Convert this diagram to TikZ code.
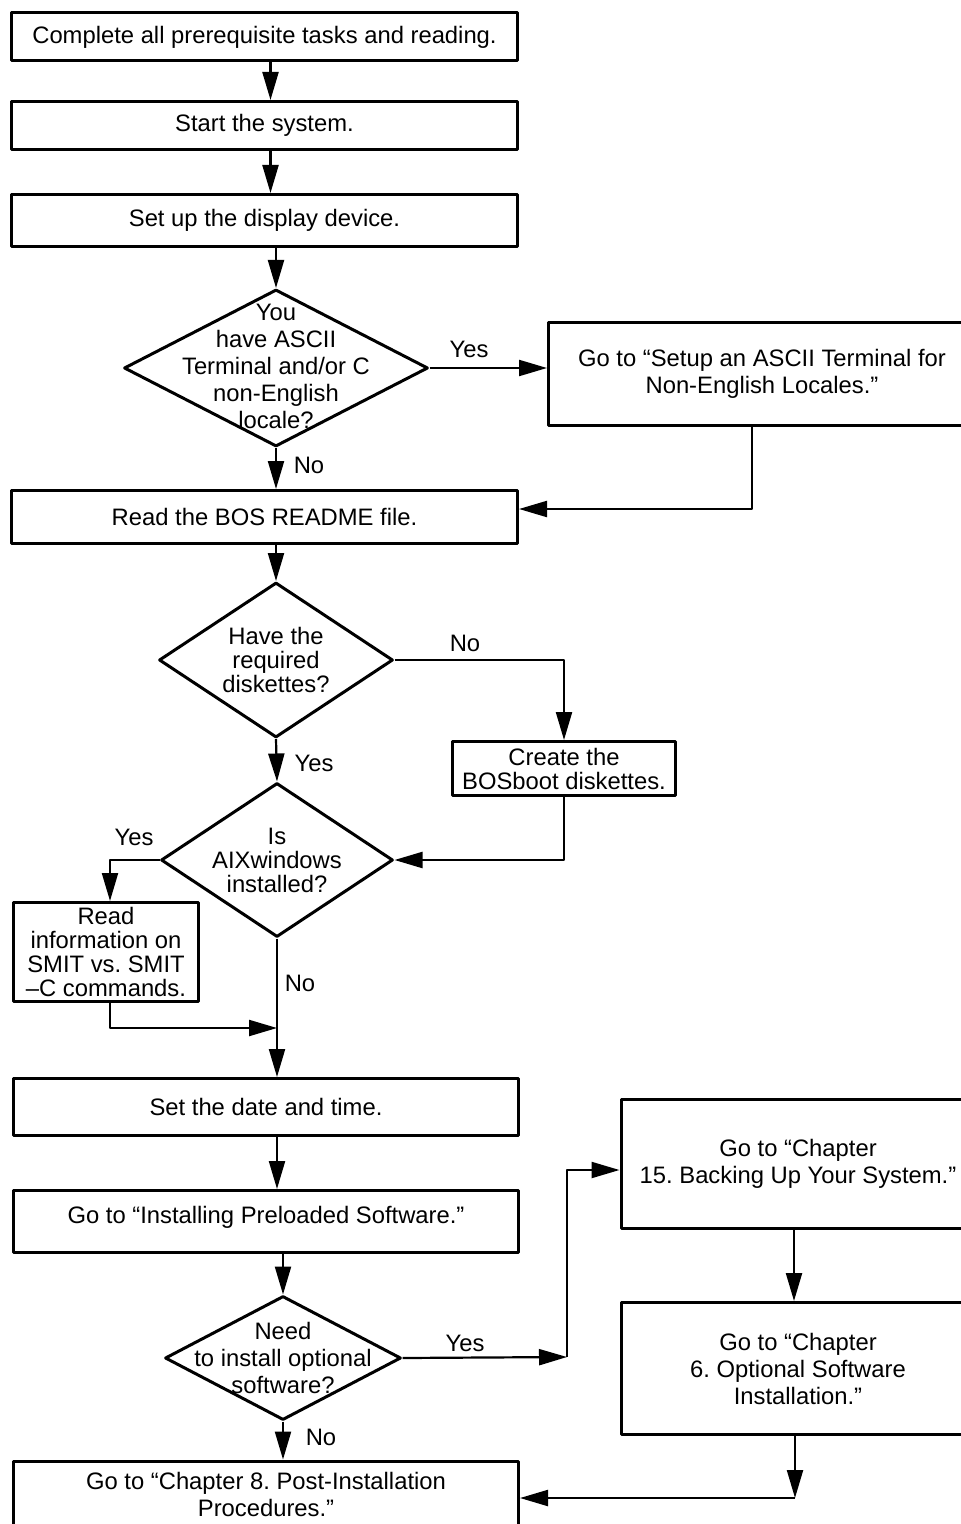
\documentclass[tikz,border=0pt]{standalone}
\usepackage{fontspec}
\setmainfont{Liberation Sans}
\frenchspacing
\usetikzlibrary{arrows.meta,shapes.geometric}
\begin{document}
\begin{tikzpicture}[x=0.5pt,y=-0.5pt,>={Triangle[length=14pt,width=8pt]},line join=round,
	font=\fontsize{11.9}{13.5}\selectfont,
	box/.style={draw,line width=1.5pt,inner sep=0pt,align=center},
	dia/.style={draw,diamond,line width=1.5pt,inner sep=0pt},
	arr/.style={->,line width=1.1pt},
	tight/.style={font=\fontsize{11.9}{12}\selectfont}]
	\useasboundingbox (0,0) rectangle (961,1524);
	\node[box,minimum width=253pt,minimum height=24pt] (b1) at (264.5,37) {Complete all prerequisite tasks and reading.};
	\node[box,minimum width=253pt,minimum height=24pt] (b2) at (264.5,125.5) {Start the system.};
	\node[box,minimum width=253pt,minimum height=26pt] (b3) at (264.5,220.5) {Set up the display device.};
	\node[dia,minimum width=152pt,minimum height=78.5pt,label={[align=center,yshift=1pt]center:You\\have ASCII\\Terminal and/or C\\non-English\\locale?}] (d1) at (276,368) {};
	\node[box,minimum width=213.5pt,minimum height=51.5pt] (b4) at (762,374) {Go to “Setup an ASCII Terminal for\\Non-English Locales.”};
	\node[box,minimum width=253pt,minimum height=26.5pt] (b5) at (264.5,517) {Read the BOS README file.};
	\node[dia,minimum width=117pt,minimum height=77.5pt,label={[align=center,tight]center:Have the\\required\\diskettes?}] (d2) at (276,660) {};
	\node[box,tight,minimum width=111.5pt,minimum height=27pt] (b6) at (564,768.5) {Create the\\BOSboot diskettes.};
	\node[dia,minimum width=116pt,minimum height=77pt,label={[align=center,tight]center:Is\\AIXwindows\\installed?}] (d3) at (277,860) {};
	\node[box,tight,minimum width=92.5pt,minimum height=49.5pt] (b7) at (106,952) {Read\\information on\\SMIT vs. SMIT\\–C commands.};
	\node[box,minimum width=252.5pt,minimum height=28.5pt] (b8) at (266,1107) {Set the date and time.};
	\node[box,minimum width=252.5pt,minimum height=31pt,text depth=7pt] (b9) at (266,1221.5) {Go to “Installing Preloaded Software.”};
	\node[dia,minimum width=118pt,minimum height=62pt,label={[align=center]center:Need\\to install optional\\software?}] (d4) at (283,1358) {};
	\node[box,minimum width=177pt,minimum height=64.5pt] (b10) at (798,1164) {Go to “Chapter\\15. Backing Up Your System.”};
	\node[box,minimum width=177pt,minimum height=66pt] (b11) at (798,1368.5) {Go to “Chapter\\6. Optional Software\\Installation.”};
	\node[box,minimum width=252.5pt,minimum height=33pt] (b12) at (266,1494) {Go to “Chapter 8. Post-Installation\\Procedures.”};
	\coordinate (merge) at (277,1028);
	\coordinate (up) at (567,1357);
	\coordinate (down) at (795,1498);
	\draw[arr] ([xshift=3pt]b1.south) -- ([xshift=3pt]b2.north);
	\draw[arr] ([xshift=3pt]b2.south) -- ([xshift=3pt]b3.north);
	\draw[arr] (d1.north |- b3.south) -- (d1.north);
	\draw[arr] (d1.east) -- (d1.east -| b4.west);
	\draw[arr] ([xshift=-5pt]b4.south) |- ([yshift=4pt]b5.east);
	\draw[arr] (d1.south) -- (d1.south |- b5.north);
	\draw[arr] (d2.north |- b5.south) -- (d2.north);
	\draw[arr] (d2.east) -| (b6.north);
	\draw[arr] (d2.south) -- (d3.north);
	\draw[arr] (b6.south) |- (d3.east);
	\draw[arr] (d3.west) -| ([xshift=2pt]b7.north);
	\draw[arr] (d3.south) -- (d3.south |- b8.north);
	\draw[arr] ([xshift=2pt]b7.south) |- (merge);
	\draw[arr] (b8.south -| d3.south) -- (b9.north -| d3.south);
	\draw[arr] (d4.north |- b9.south) -- (d4.north);
	\draw[arr] (d4.east) -- (up);
	\draw[arr] (up) |- ([yshift=-3pt]b10.west);
	\draw[arr] ([xshift=-2pt]b10.south) -- ([xshift=-2pt]b11.north);
	\draw[arr] (b11.south -| down) -- (down);
	\draw[arr] (down) -- (down -| b12.east);
	\draw[arr] (d4.south) -- (d4.south |- b12.north);
	\node (yes1) at (469,349) {Yes};
	\node (no1) at (309,465) {No};
	\node (no2) at (465,643) {No};
	\node (yes2) at (314,763) {Yes};
	\node (yes3) at (134,837) {Yes};
	\node (no3) at (300,983) {No};
	\node (yes4) at (465,1343) {Yes};
	\node (no4) at (321,1437) {No};
\end{tikzpicture}
\end{document}
